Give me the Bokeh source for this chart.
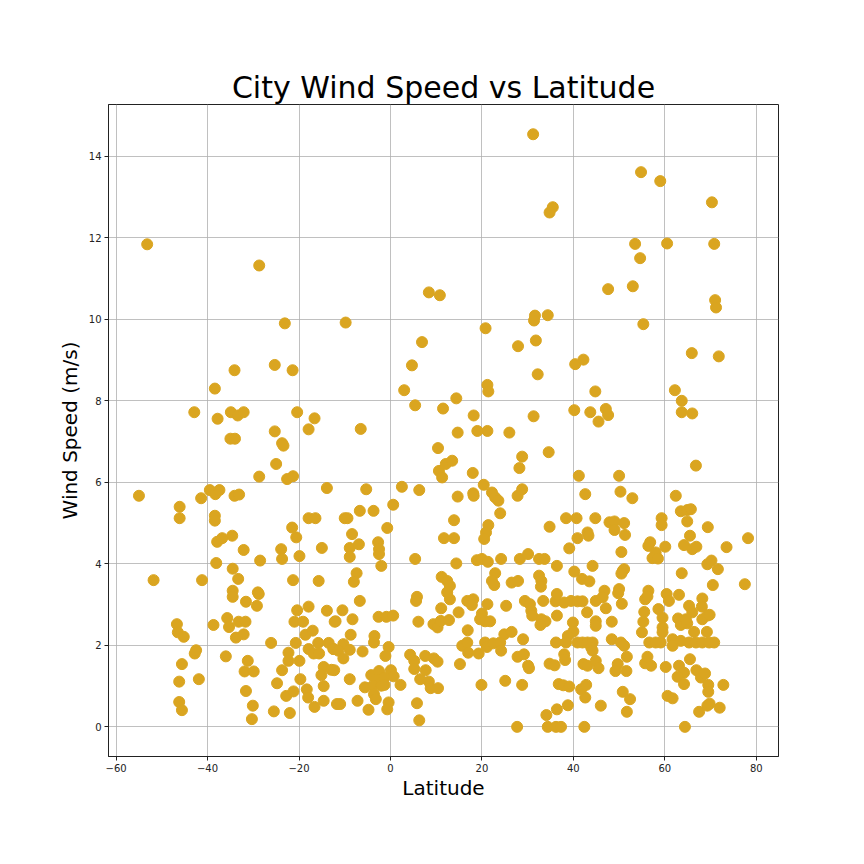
from bokeh.plotting import figure
from bokeh.models import FixedTicker, Range1d
from bokeh.embed import file_html
from bokeh.resources import INLINE

# latitude and wind speed (m/s) for each city
lat = [
    -53.2, -28.7, -23.1, -34.1, -25.3, -21.4, -38.4, -42.9, -37.8, -34.9, -33.4, -32.1, -20.4, -16.6, -17.9, -25.3,
    -35.0, -34.0, -23.7, -23.4, -25.0, -28.7, -22.6, -21.3, -13.9, -55.0, -46.1, -46.1, -41.4, -39.5, -38.3, -37.4,
    -34.1, -33.1, -38.4, -38.4, -37.9, -36.8, -34.6, -32.1, -38.1, -28.5, -21.5, -20.6, -23.9, -23.7, -19.9, -17.9,
    -16.4, -15.0, -51.8, -41.2, -34.5, -33.3, -34.5, -34.5, -31.6, -29.0, -28.8, -29.2, -21.3, -15.7, -20.4, -17.9,
    -13.9, -21.0, -19.1, -12.2, -46.7, -46.5, -45.2, -38.7, -35.7, -35.3, -33.2, -31.7, -33.8, -32.1, -18.6, -17.0,
    -26.1, -20.7, -15.8, -13.5, -17.9, -16.8, -15.6, -12.4, -42.8, -42.5, -36.0, -45.6, -31.2, -31.9, -29.9, -22.3,
    -22.3, -19.9, -23.7, -24.8, -19.7, -22.8, -21.2, -18.3, -18.0, -16.6, -14.6, -15.1, -12.9, -14.6, -14.6, -11.7,
    -46.2, -41.9, -46.2, -45.6, -31.6, -30.1, -30.3, -25.5, -22.0,
    31.2, 35.5, 34.8, 8.4, 10.8, -9.8, 20.8, 31.6, 31.4, 34.4, 6.9, 27.9, 31.8, 4.7, 32.2, 3.0,
    21.2, 21.4, 5.4, 11.5, 14.4, 18.2, 31.3, -6.5, 14.7, 19.0, 21.2, 26.0,
    10.4, 34.6, 28.8, 28.2, 10.6, 11.3, 12.1, 13.5, 18.0, -5.3, 2.5, 6.3, 20.4, 14.7, 18.1, 18.2,
    22.2, 22.9, 23.6, 27.8, 28.8, 24.0, -10.0, -9.4, -6.7, -3.7, 0.6, 13.9, -8.4, -8.9, -6.9, -8.9,
    -2.7, -2.5, -2.5, -0.7, -2.0, 5.4, 11.7, 13.9, 21.4, 20.9, 20.5, 34.8, 14.4, 18.9, 20.0, 21.3,
    24.2, 28.3, 30.1, 32.5, 33.7, 36.4, -7.4, -8.0, 11.2, 12.4, 13.0, 22.9, 22.2, 22.7, 26.5, 27.9,
    32.5, 33.0, 32.9, -6.7, 5.8, 5.6, 12.4, 13.0, 16.8, 18.1, 17.8, 21.2, 25.3, 29.4, 30.5, 30.8,
    31.0, 33.4, 36.1, 36.4, 36.4, 33.0, 33.9, 32.8, -10.5, -12.0, -8.3, -2.6, -0.9, 0.6, 6.1, 11.1,
    9.4, 10.3, 11.0, 12.8, 14.9, 16.9, 20.0, 19.6, 20.7, 21.8, 24.9, 26.5, 29.0, -8.7, -3.5, -3.6,
    -10.3, -12.5, -11.4, -8.9, -10.3, -6.1, -0.4, -1.1, 15.7, 16.8, 17.0, 19.3, 20.7, 21.1, 22.5, 24.0,
    24.2, 27.8, 29.2, 30.1, 30.3, 36.2, 34.8, 35.9, -12.3, -8.9, 4.3, 5.2, 5.2, 7.6, 9.5, 10.3,
    7.7, 6.5, 8.4, 8.8, 10.4, 15.2, -4.2, -2.5, -3.1, -1.3, 0.1, 0.7, -5.6, -3.8, -2.0, -1.3,
    2.2, -3.6, -3.2, -11.0, -7.2, -4.8, -0.4, -0.7, 5.8, 6.3, 19.9, 25.1, 28.8, 27.7, 34.1, 34.4,
    36.2, 36.8, 36.4,
    54.8, 59.0, 70.3, 53.5, 54.6, 60.5, 70.8, 47.6, 53.0, 71.0, 71.2, 55.3, 65.9, 71.8, 40.4, 42.2,
    44.8, 62.2, 63.7, 40.2, 43.7, 47.1, 47.6, 45.5, 63.7, 66.0,
    66.8, 41.2, 50.0, 42.6, 50.3, 52.9, 62.4, 38.4, 40.7, 44.8, 47.9, 49.0, 49.0, 51.1, 51.3, 59.3,
    59.3, 63.5, 64.9, 65.7, 64.9, 69.4, 65.5, 78.2, 40.9, 43.1, 43.3, 39.1, 50.5, 56.8, 56.4, 60.1,
    64.2, 66.0, 66.9, 73.5, 58.0, 57.3, 58.5, 44.2, 40.2, 41.9, 43.5, 50.8, 51.1, 50.5, 63.7, 69.3,
    70.2, 71.6, 70.5, 77.5, 46.8, 50.0, 49.8, 50.6, 38.0, 39.5, 40.9, 42.0, 44.9, 46.4, 47.1, 43.0,
    39.9, 40.0, 38.8, 44.9, 44.9, 48.4, 56.4, 55.7, 56.2, 55.5, 55.3, 55.0, 58.6, 59.5, 59.5, 59.5,
    60.4, 60.9, 63.1, 65.3, 66.0, 68.2, 68.1, 62.9, 63.5, 64.9, 64.6, 66.4, 68.2, 69.3, 69.8, 69.2,
    48.4, 50.4, 51.1, 38.4, 40.9, 42.0, 43.1, 44.2, 43.9, 44.2, 56.6, 58.0, 59.1, 61.7, 61.7, 63.5,
    65.3, 66.8, 68.2, 69.7, 70.8, 38.0, 38.2, 42.2, 43.1, 44.9, 45.5, 51.7, 49.7, 49.2, 51.6, 55.7,
    57.0, 56.2, 60.2, 65.5, 63.1, 64.2, 62.8, 64.2, 66.9, 67.9, 68.8, 69.5, 69.5, 72.8, 37.8, 39.1,
    41.7, 42.8, 42.6, 46.0, 50.8, 52.4, 51.7, 60.6, 61.7, 38.8, 67.5, 69.3, 69.8, 72.0, 37.3, 42.4,
    64.4,
]
wind = [
    11.84, 11.32, 9.90, 8.75, 8.88, 8.75, 8.30, 7.72, 7.56, 7.72, 7.64, 7.72, 7.72, 7.57, 7.30, 7.25,
    7.07, 7.07, 6.96, 6.90, 6.45, 6.14, 6.08, 6.15, 5.86, 5.67, 5.40, 5.12, 5.61, 5.81, 5.71, 5.81,
    5.67, 5.70, 5.18, 5.06, 4.54, 4.63, 4.69, 4.34, 4.02, 4.08, 4.89, 4.65, 4.36, 4.12, 4.19, 5.12,
    5.12, 4.39, 3.60, 3.60, 3.88, 3.63, 3.34, 3.19, 3.07, 3.30, 3.26, 2.97, 3.60, 3.58, 2.86, 2.95,
    2.85, 2.58, 2.58, 2.58, 2.52, 2.32, 2.21, 2.50, 2.67, 2.45, 2.58, 2.58, 2.19, 2.27, 2.26, 2.36,
    2.06, 2.06, 2.06, 2.06, 1.91, 1.80, 1.80, 1.91, 1.80, 1.88, 1.73, 1.54, 1.62, 1.36, 1.36, 1.82,
    1.62, 1.62, 1.39, 1.07, 1.17, 0.76, 0.87, 0.92, 0.72, 0.49, 1.47, 1.27, 1.40, 1.00, 0.64, 0.56,
    1.11, 1.17, 0.61, 0.41, 0.88, 0.52, 0.19, 0.38, 0.34,
    14.54, 12.75, 12.62, 10.66, 10.59, 9.92, 9.78, 10.09, 9.97, 10.10, 9.44, 9.34, 9.48, 8.87, 8.65, 8.26,
    8.39, 8.23, 7.89, 7.81, 8.06, 7.64, 7.62, 7.31, 7.22, 7.26, 7.26, 7.22,
    6.84, 6.74, 6.63, 6.35, 6.28, 6.12, 6.45, 6.53, 6.23, 5.83, 5.89, 5.81, 5.94, 5.65, 5.73, 5.67,
    5.75, 5.63, 5.55, 5.67, 5.83, 5.24, 5.12, 5.12, 5.30, 5.30, 5.45, 5.07, 4.73, 4.39, 4.48, 4.17,
    4.53, 4.36, 4.24, 4.88, 3.95, 4.12, 4.63, 4.63, 4.95, 4.77, 4.61, 4.91, 4.01, 4.09, 4.12, 4.05,
    4.12, 4.12, 4.24, 4.12, 4.12, 3.95, 3.77, 3.56, 3.68, 3.58, 3.46, 3.77, 3.58, 3.48, 3.54, 3.58,
    3.71, 3.58, 3.44, 3.09, 3.19, 3.09, 3.30, 3.13, 3.09, 3.13, 2.99, 3.01, 2.97, 3.09, 3.01, 2.85,
    2.73, 3.09, 3.08, 3.26, 2.73, 2.64, 2.59, 2.50, 2.86, 2.59, 2.64, 2.70, 2.70, 2.73, 2.58, 2.91,
    2.52, 2.44, 2.60, 2.62, 2.81, 2.37, 2.78, 2.64, 2.59, 2.59, 2.27, 2.33, 2.15, 2.26, 2.23, 2.07,
    2.03, 1.91, 1.87, 1.89, 1.68, 1.85, 1.96, 1.74, 1.99, 2.07, 1.82, 1.80, 2.07, 1.96, 2.05, 2.07,
    1.87, 1.72, 1.78, 1.50, 1.44, 2.07, 1.55, 1.51, 1.39, 1.17, 1.77, 1.62, 1.42, 1.74, 1.68, 1.60,
    1.39, 1.17, 1.11, 0.95, 0.95, 1.54, 1.27, 1.37, 1.17, 1.21, 1.39, 1.24, 0.97, 1.01, 1.01, 1.03,
    1.03, 0.80, 0.68, 0.56, 0.64, 0.42, 0.60, 0.43, 0.58, 0.16, 1.03, 1.13, 1.03, 0.00, 0.29, 0.00,
    0.00, 1.05, 0.43,
    13.61, 13.39, 12.87, 11.85, 11.50, 11.86, 11.85, 10.74, 10.81, 10.47, 10.29, 9.88, 9.17, 9.09, 8.90, 9.01,
    8.23, 8.26, 8.00, 7.77, 7.72, 7.80, 7.65, 7.49, 7.72, 7.69,
    6.41, 6.16, 6.16, 5.71, 5.77, 5.61, 5.67, 5.12, 5.12, 5.12, 5.02, 5.04, 4.83, 5.00, 4.71, 5.12,
    4.95, 5.29, 5.32, 5.34, 5.04, 4.90, 4.69, 4.63, 4.63, 4.77, 4.69, 4.38, 4.29, 4.53, 4.44, 4.42,
    4.46, 4.36, 4.42, 4.41, 4.28, 4.14, 4.13, 3.95, 3.81, 3.63, 3.57, 3.83, 3.87, 3.76, 3.77, 3.99,
    4.08, 3.87, 3.48, 3.50, 3.34, 3.38, 3.28, 3.02, 3.05, 3.09, 3.08, 3.08, 3.09, 3.18, 2.91, 2.81,
    2.56, 2.34, 2.23, 2.59, 2.48, 2.58, 3.34, 3.13, 3.20, 2.82, 2.58, 2.32, 2.89, 2.68, 2.44, 2.32,
    3.26, 3.09, 3.24, 2.97, 2.81, 3.15, 2.95, 2.66, 2.50, 2.54, 2.64, 2.33, 2.64, 2.73, 2.75, 2.33,
    2.15, 2.07, 1.99, 2.07, 2.07, 2.07, 2.07, 2.07, 1.95, 1.87, 2.07, 2.07, 2.07, 2.15, 1.99, 2.11,
    2.07, 2.07, 2.07, 2.07, 2.07, 1.78, 1.64, 1.54, 1.50, 1.62, 1.44, 1.72, 1.54, 1.37, 1.37, 1.56,
    1.50, 1.72, 1.47, 1.66, 1.50, 1.33, 1.23, 1.05, 1.39, 1.21, 1.31, 1.03, 0.86, 1.03, 1.02, 0.99,
    0.92, 1.03, 0.72, 0.52, 0.86, 0.68, 0.37, 0.76, 0.70, 0.53, 0.37, 0.52, 0.57, 0.47, 0.00, 0.00,
    0.00,
]

x_ticks = [-60, -40, -20, 0, 20, 40, 60, 80]
y_ticks = [0, 2, 4, 6, 8, 10, 12, 14]

font = "DejaVu Sans"

p = figure(width=860, height=860, output_backend="svg", toolbar_location=None,
           title="City Wind Speed vs Latitude",
           x_range=Range1d(-61.66, 84.86), y_range=Range1d(-0.727, 15.27),
           min_border_left=108, min_border_right=82,
           min_border_top=104, min_border_bottom=104)

p.title.text_font = font
p.title.text_font_size = "30px"
p.title.text_font_style = "normal"
p.title.text_color = "black"
p.title.align = "center"
p.title.standoff = 0

p.scatter(lat, wind, size=11, fill_color="#DAA520", line_color="#DAA520")

# axes, ticks and grid in the matplotlib look
for ax in (p.xaxis[0], p.yaxis[0]):
    ax.axis_label_text_font = font
    ax.axis_label_text_font_size = "20px"
    ax.axis_label_text_font_style = "normal"
    ax.axis_label_text_color = "black"
    ax.major_label_text_font = font
    ax.major_label_text_font_size = "10px"
    ax.major_label_text_color = "#222222"
    ax.major_tick_out = 4
    ax.major_tick_in = 0
    ax.minor_tick_line_color = None
    ax.axis_line_color = "#222222"
    ax.major_tick_line_color = "#222222"
    ax.major_label_standoff = 3

p.xaxis.axis_label = "Latitude"
p.yaxis.axis_label = "Wind Speed (m/s)"
p.xaxis.axis_label_standoff = 1
p.yaxis.axis_label_standoff = 4
p.xaxis.ticker = FixedTicker(ticks=x_ticks)
p.yaxis.ticker = FixedTicker(ticks=y_ticks)
p.xaxis.major_label_overrides = {t: str(t).replace("-", "\u2212") for t in x_ticks}
p.yaxis.major_label_orientation = 0

p.grid.grid_line_color = "#b0b0b0"
p.grid.grid_line_width = 0.8
p.outline_line_color = "#222222"
p.outline_line_width = 1
p.outline_line_alpha = 1

open("out.html", "w").write(file_html(p, INLINE))
